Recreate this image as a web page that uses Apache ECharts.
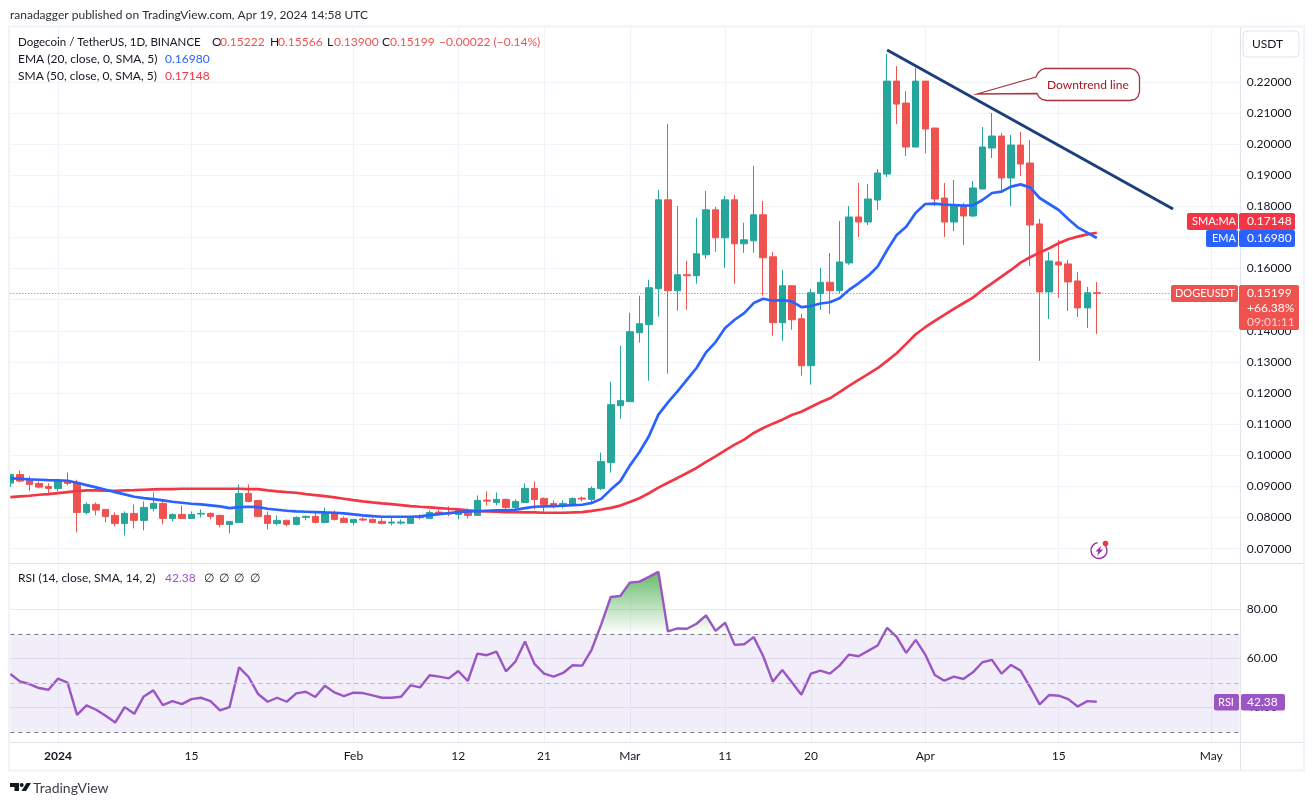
<!DOCTYPE html>
<html><head><meta charset="utf-8">
<style>html,body{margin:0;padding:0;background:#fff}#c{width:1313px;height:805px}</style>
<script src="https://cdn.jsdelivr.net/npm/echarts@6/dist/echarts.min.js"></script>
</head><body><div id="c"></div>
<script>
const opens=[.09107,.09385,.09193,.09096,.09,
.08936,.09193,.09128,.08165,.08422,.08262,.08069,.07812,.08133,.07909,
.08294,.08454,.07973,.08101,.07973,.08112,.08133,.08069,.0778,.07844,
.08775,.08551,.08069,.07812,.07909,.0778,.08005,.08037,.07844,.08133,
.07973,.07844,.07951,.07941,.07877,.07823,.07823,.07812,.08026,.07973,
.08176,.08144,.08101,.0823,.08069,.08561,.08486,.08583,.08326,.08486,
.08936,.08615,.08454,.0839,.08422,.08626,.08583,.0893,.09765,.11595,
.11723,.13938,.14195,.1535,.18207,.15286,.158,.15768,.16442,.17886,
.16987,.18207,.16795,.16891,.17726,.16378,.14259,.15447,.14387,.12879,
.15195,.15559,.15291,.16179,.17656,.17495,.18201,.19036,.22021,.21315,
.19903,.22021,.20513,.18266,.17495,.18009,.17688,.18555,.19871,.20256,
.18908,.19967,.19389,.17431,.15248,.16211,.16147,.15601,.14735,.15222];
const closes=[.09385,.09171,.09064,.08979,.08936,
.09193,.09096,.08165,.08422,.0824,.08037,.07812,.08133,.07909,.08326,
.08454,.07973,.08101,.07973,.08101,.08133,.08037,.0778,.07877,.08775,
.08519,.08037,.07812,.07909,.0778,.08005,.08037,.07844,.08133,.07941,
.07844,.07941,.07919,.07844,.07812,.07855,.07855,.08005,.07994,.08165,
.08144,.08112,.0823,.08069,.08551,.08529,.08583,.08326,.08519,.08936,
.08583,.08422,.0839,.08454,.08615,.08593,.08936,.09797,.11627,.11755,
.1397,.14227,.15382,.18207,.15286,.158,.15768,.16474,.17886,.16987,
.18207,.16795,.16923,.17726,.16345,.14259,.15447,.14355,.12879,.15222,
.15559,.15291,.16211,.17656,.17495,.18234,.19068,.22021,.21283,.19903,
.22021,.20481,.18234,.17495,.18009,.17688,.18587,.19903,.20256,.18908,
.19967,.19357,.17399,.15248,.16243,.16115,.15569,.14735,.15222,.15199];
const highs=[.09385,.09514,.09321,.09161,.09107,
.09235,.09449,.09214,.08486,.08486,.08262,.08165,.08198,.08422,.08519,
.08807,.08551,.08133,.0839,.08198,.08262,.08165,.08101,.07877,.09064,
.09064,.08551,.08198,.08069,.07941,.08037,.08069,.08165,.08326,.0823,
.08037,.07941,.08005,.07973,.07973,.08037,.07941,.08037,.08101,.0823,
.08262,.08358,.08294,.08294,.08711,.0884,.08807,.08615,.08583,.09096,
.09161,.08647,.08551,.08551,.08647,.08679,.09,.10086,.12365,.13521,
.1458,.15126,.15639,.18528,.20647,.18015,.16249,.1763,.18496,.17983,
.18336,.18368,.17469,.19299,.18175,.16538,.1596,.15447,.14548,.1535,
.16019,.165,.17527,.18009,.18747,.18715,.19197,.22888,.22503,.217,
.22439,.22021,.20513,.18747,.18844,.18105,.18811,.20545,.20994,.20352,
.20288,.20384,.20127,.17592,.16532,.16917,.16275,.1589,.15409,.15566];
const lows=[.08979,.09128,.0885,.08936,.08786,
.0884,.09032,.07523,.08101,.08069,.07844,.07716,.07427,.07652,.07588,
.08198,.0778,.07877,.07973,.07973,.08005,.07941,.07684,.07491,.07844,
.08486,.08005,.0762,.07748,.07716,.07748,.07909,.07812,.07812,.07909,
.07844,.07748,.07877,.07844,.0778,.07748,.0778,.07812,.07941,.07973,
.08069,.08037,.07941,.07973,.08069,.0839,.0839,.08198,.08262,.08486,
.08262,.08165,.08294,.08294,.0839,.08519,.08422,.08877,.09444,.11177,
.11723,.13617,.12397,.14452,.12622,.14644,.14676,.15511,.16313,.16538,
.16024,.15511,.16506,.16506,.15126,.13842,.13681,.14034,.12558,.12269,
.1467,.14542,.15205,.16115,.17014,.17399,.1788,.1894,.20641,.19614,
.19903,.1971,.18009,.17014,.17206,.16757,.17656,.18555,.1955,.18522,
.18009,.18972,.16083,.13033,.14382,.15056,.14638,.14446,.14093,.139];
const ema20=[.09257,.09246,.09225,.09214,.09203,
.09193,.09182,.09118,.09043,.08968,.08893,.08818,.08743,.08668,.08626,
.08593,.08551,.08508,.08476,.08444,.08422,.0839,.08358,.08305,.08337,
.08347,.08337,.08283,.08251,.08219,.08198,.08187,.08176,.08165,.08155,
.08133,.08101,.08069,.08048,.08026,.08026,.08026,.08026,.08037,.0808,
.08112,.08144,.08176,.08198,.08208,.08219,.0823,.0823,.08251,.08305,
.08347,.08358,.08369,.08379,.08401,.08412,.0847,.0860,.08898,.09166,
.09669,.10097,.1061,.11306,.11702,.12055,.12429,.12804,.13307,.13638,
.14088,.14355,.14569,.1489,.15029,.14965,.14987,.14944,.14762,.14794,
.14877,.14917,.15045,.15312,.15526,.15762,.16061,.16596,.17078,.17345,
.17795,.18073,.18084,.18052,.18041,.1802,.1803,.18201,.18426,.18469,
.1863,.18704,.18608,.18266,.18073,.1788,.17592,.17324,.17153,.1698];
const sma50=[.08658,.08679,.087,.08733,.08754,
.08786,.08818,.0885,.08872,.08872,.08861,.08861,.08872,.08882,.08893,
.08904,.08914,.08914,.08925,.08925,.08925,.08925,.08925,.08925,.08925,
.08914,.08914,.08872,.0884,.08818,.08797,.08754,.08722,.0869,.08647,
.08604,.08561,.08519,.08486,.08454,.08433,.08401,.08369,.08347,.08326,
.08305,.08283,.08262,.0823,.08208,.08198,.08187,.08176,.08176,.08165,
.08165,.08155,.08155,.08155,.08165,.08176,.08215,.0826,.0831,.08385,
.08500,.08620,.08780,.08960,.09120,.09273,.09433,.09594,.09790,.09968,
.10161,.10343,.10503,.10717,.10878,.11017,.11145,.11295,.11400,.11552,
.11702,.1183,.12028,.12231,.12423,.12605,.12798,.13033,.1328,.13579,
.13889,.14114,.14317,.1451,.14703,.14884,.15066,.15312,.15526,.1574,
.15954,.1619,.16361,.16511,.1665,.1681,.16939,.17024,.17099,.17148];
const rsi14=[53.67,50.68,49.59,47.96,47.28,
51.77,50.14,37.07,40.88,39.12,36.67,33.95,40.2,37.48,44.56,
47.01,41.02,42.65,41.43,43.47,44.01,42.65,38.84,40.2,56.39,
52.45,45.51,42.38,44.01,42.38,45.78,46.46,44.29,48.91,46.19,
44.69,46.05,45.92,44.97,44.01,44.01,44.42,49.05,48.23,53.13,
52.59,51.9,54.9,50.82,61.97,61.29,62.79,54.76,58.71,66.87,
57.76,53.81,52.59,54.08,57.21,57.07,63.61,73.81,84.97,85.37,
90.82,91.22,93.13,95.17,70.95,72.18,72.04,74.08,77.48,71.22,
74.49,65.51,65.78,68.64,60.88,50.54,55.31,50.27,45.24,53.81,
55.03,53.81,57.07,61.56,60.88,63.06,65.24,72.45,68.78,62.24,
67.55,61.56,53.27,50.95,52.59,51.63,54.35,58.44,59.39,53.81,
57.35,55.03,48.37,41.29,45.1,44.83,43.47,40.48,42.65,42.38];

const tickDates=['2024-01-01','2024-01-15','2024-02-01','2024-02-12','2024-02-21','2024-03-01','2024-03-11','2024-03-20','2024-04-01','2024-04-15','2024-05-01'];
const tickLabels=['2024','15','Feb','12','21','Mar','11','20','Apr','15','May'];
const priceTicks=[.07,.08,.09,.10,.11,.12,.13,.14,.15,.16,.17,.18,.19,.20,.21,.22];
const priceLabelTicks=[.07,.08,.09,.10,.11,.12,.13,.14,.16,.18,.19,.20,.21,.22];
const rsiTicks=[40,60,80];
const rsiLevels=[70,50,30];
const trendFrom=['2024-03-28',.23019];
const trendTo=['2024-04-27',.17912];
const lastClose=.15199;

const categories=[];
for(let t=Date.UTC(2023,11,27),i=0;i<130;i++,t+=864e5)categories.push(new Date(t).toISOString().slice(0,10));
const candles=opens.map((o,i)=>[o,closes[i],lows[i],highs[i]]);

const FONT='Lato';
const INK='#131722',GRID='#f0f3fa',EDGE='#e0e3eb',UP='#26a69a',DOWN='#ef5350',BLUE='#2962ff',RED='#f23645',PURPLE='#9c56c4';
const isTick=(i,v)=>tickDates.includes(v);

function xAxisOf(idx,showLabel){return{
  type:'category',gridIndex:idx,data:categories,boundaryGap:false,
  axisLine:{show:false},axisTick:{show:false},
  splitLine:{show:true,interval:isTick,showMinLine:true,showMaxLine:true,lineStyle:{color:GRID,width:1}},
  axisLabel:{show:showLabel,interval:isTick,margin:8,fontFamily:FONT,fontSize:12,color:INK,hideOverlap:false,
    formatter:v=>{const k=tickDates.indexOf(v);if(k<0)return'';return k===0?'{b|'+tickLabels[k]+'}':tickLabels[k];},
    rich:{b:{fontFamily:FONT,fontSize:12,fontWeight:'bold',color:INK}}}
};}
const T=(x,y,text,fill,extra)=>({type:'text',z:100,x,y,silent:true,style:Object.assign({text,fill,font:'12px '+FONT,textVerticalAlign:'middle',textBaseline:'middle'},extra||{})});
const TAG={font:'11px '+FONT};
const R=(x,y,w,h,fill,r)=>({type:'rect',z:99,silent:true,shape:{x,y,width:w,height:h,r:r||0},style:{fill}});
const L=(x1,y1,x2,y2)=>({type:'line',z:98,silent:true,shape:{x1,y1,x2,y2},style:{stroke:EDGE,lineWidth:1}});

const graphics=[
 // mask left of the plot and frame
 {type:'rect',z:96,silent:true,shape:{x:0,y:27,width:8.5,height:536},style:{fill:'#fff'}},
 {type:'rect',z:97,silent:true,shape:{x:9,y:26.5,width:1295,height:744},style:{fill:'none',stroke:GRID,lineWidth:2}},
 L(10,563.5,1303,563.5),L(10,742.5,1303,742.5),L(1240.5,27,1240.5,770),
 T(10,15,'ranadagger published on TradingView.com, Apr 19, 2024 14:58 UTC','#2a2e39'),
 T(18,42,'Dogecoin / TetherUS, 1D, BINANCE',INK,{font:'11.5px '+FONT}),
 T(212,42,'O',INK),T(220,42,'0.15222',DOWN),
 T(270,42,'H',INK),T(278,42,'0.15566',DOWN),
 T(327,42,'L',INK),T(334,42,'0.13900',DOWN),
 T(382,42,'C',INK),T(390,42,'0.15199',DOWN),
 T(439,42,'\u22120.00022 (\u22120.14%)',DOWN),
 T(18,59,'EMA (20, close, 0, SMA, 5)',INK),T(165,59,'0.16980',BLUE),
 T(18,76,'SMA (50, close, 0, SMA, 5)',INK),T(165,76,'0.17148',RED),
 T(18,578,'RSI (14, close, SMA, 14, 2)',INK),T(165,578,'42.38',PURPLE),
 T(204,578,'\u2205',INK),T(219,578,'\u2205',INK),T(234,578,'\u2205',INK),T(250,578,'\u2205',INK),
 // currency button
 {type:'rect',z:99,silent:true,shape:{x:1243,y:31,width:56,height:26,r:4},style:{fill:'#fff',stroke:EDGE,lineWidth:1}},
 T(1252,44,'USDT',INK),
 // last-value tags
 R(1187,213,51,17,RED,2),T(1192,221.5,'SMA:MA','#fff',TAG),
 R(1239,213,56,17,RED,2),T(1247,221.5,'0.17148','#fff'),
 R(1206,230,32,17,BLUE,2),T(1212,238.5,'EMA','#fff',TAG),
 R(1239,230,56,17,BLUE,2),T(1247,238.5,'0.16980','#fff'),
 R(1171,285,67,17,DOWN,2),T(1175,293.5,'DOGEUSDT','#fff',TAG),
 R(1239,285,60,45,DOWN,2),T(1247,293.5,'0.15199','#fff'),T(1247,308,'+66.38%','#fff'),T(1247,322,'09:01:11','#fbd0cf'),
 R(1214,694,25,16.5,PURPLE,2),T(1218,702.3,'RSI','#fff',TAG),
 R(1241,694,44,16.5,PURPLE,2),T(1247,702.3,'42.38','#fff'),
 // callout
 {type:'polygon',z:99,silent:true,shape:{points:[[977,94],[1036,77],[1038,73],[1041,70],[1045,68.5],[1130,68.5],[1135,70],[1138,73],[1139.5,77],[1139.5,92],[1138,96.5],[1135,99.5],[1130,100.5],[1047,100.5],[1042,99.5],[1039,97],[1037,93.5]]},style:{fill:'#fff',stroke:'#a8323f',lineWidth:1.3}},
 T(1047,85,'Downtrend line','#a5141f'),
 // bolt icon
 {type:'arc',z:99,silent:true,shape:{cx:1099,cy:550.5,r:8,startAngle:-0.9,endAngle:-1.75,clockwise:true},style:{stroke:'#9c27b0',fill:'none',lineWidth:1.4}},
 {type:'polygon',z:99,silent:true,shape:{points:[[1101.5,545.5],[1095.5,551.5],[1098.5,551.5],[1097,556],[1103,549.5],[1099.8,549.5]]},style:{fill:'#9c27b0'}},
 {type:'circle',z:99,silent:true,shape:{cx:1105.5,cy:543.5,r:2.8},style:{fill:'#f23645'}},
 // brand
 {type:'polygon',z:99,silent:true,shape:{points:[[10,783],[19,783],[19,791],[14.5,791],[14.5,787],[10,787]]},style:{fill:INK}},
 {type:'circle',z:99,silent:true,shape:{cx:21.7,cy:785,r:2},style:{fill:INK}},
 {type:'polygon',z:99,silent:true,shape:{points:[[26.5,783],[31,783],[26,791],[21.5,791]]},style:{fill:INK}},
 T(33,788,'TradingView','#3a3e4a',{font:'14px '+FONT})
];

const chart=echarts.init(document.getElementById('c'),null,{renderer:'canvas'});
chart.setOption({
 animation:false,backgroundColor:'#fff',
 textStyle:{fontFamily:FONT},
 grid:[{left:10.35,width:1229.4,top:27,height:536.5},{left:10.35,width:1229.4,top:563.7,height:178.6}],
 xAxis:[xAxisOf(0,false),xAxisOf(1,true)],
 yAxis:[
  {type:'value',gridIndex:0,position:'right',min:.06524,max:.23759,
   axisLine:{show:false},
   axisTick:{show:false,customValues:priceTicks},
   splitLine:{show:true,lineStyle:{color:GRID,width:1}},
   axisLabel:{customValues:priceLabelTicks,margin:7,fontFamily:FONT,fontSize:12,color:INK,showMinLabel:true,showMaxLabel:true,formatter:v=>v.toFixed(5)}},
  {type:'value',gridIndex:1,position:'right',min:25.9,max:98.5,
   axisLine:{show:false},
   axisTick:{show:false,customValues:rsiTicks},
   splitLine:{show:true,lineStyle:{color:'#e8e6f0',width:1}},
   axisLabel:{customValues:rsiTicks,margin:7,fontFamily:FONT,fontSize:12,color:INK,formatter:v=>v.toFixed(2)}}
 ],
 graphic:{elements:graphics},
 series:[
  {type:'candlestick',name:'DOGEUSDT',xAxisIndex:0,yAxisIndex:0,data:candles,barWidth:7,
   itemStyle:{color:UP,color0:DOWN,borderColor:UP,borderColor0:DOWN,borderWidth:1}},
  {type:'line',name:'SMA',xAxisIndex:0,yAxisIndex:0,data:sma50,showSymbol:false,lineStyle:{color:RED,width:2.7},itemStyle:{color:RED},silent:true,
   markLine:{silent:true,symbol:'none',animation:false,precision:5,label:{show:false},data:[
     {yAxis:lastClose,lineStyle:{color:DOWN,type:[1,2],width:1}},
     [{coord:trendFrom,lineStyle:{color:'#1c3f7c',type:'solid',width:3}},{coord:trendTo}]
   ]}},
  {type:'line',name:'EMA',xAxisIndex:0,yAxisIndex:0,data:ema20,showSymbol:false,lineStyle:{color:BLUE,width:2.7},itemStyle:{color:BLUE},silent:true},
  {type:'line',name:'RSI',xAxisIndex:1,yAxisIndex:1,data:rsi14,showSymbol:false,lineStyle:{color:PURPLE,width:2.4},itemStyle:{color:PURPLE},silent:true,
   areaStyle:{origin:rsiLevels[0],opacity:1,color:{type:'linear',global:true,x:0,y:572,x2:0,y2:634.3,colorStops:[{offset:0,color:'rgba(76,175,80,0.85)'},{offset:1,color:'rgba(76,175,80,0)'}]}},
   markArea:{silent:true,animation:false,itemStyle:{color:'rgba(126,87,194,0.1)'},data:[[{yAxis:rsiLevels[0]},{yAxis:rsiLevels[2]}]]},
   markLine:{silent:true,symbol:'none',animation:false,label:{show:false},data:[
     {yAxis:rsiLevels[0],lineStyle:{color:'#787b86',type:[4,4],width:1}},
     {yAxis:rsiLevels[1],lineStyle:{color:'#b8b9c2',type:[4,4],width:1}},
     {yAxis:rsiLevels[2],lineStyle:{color:'#787b86',type:[4,4],width:1}}
   ]}}
 ]
});
</script></body></html>
